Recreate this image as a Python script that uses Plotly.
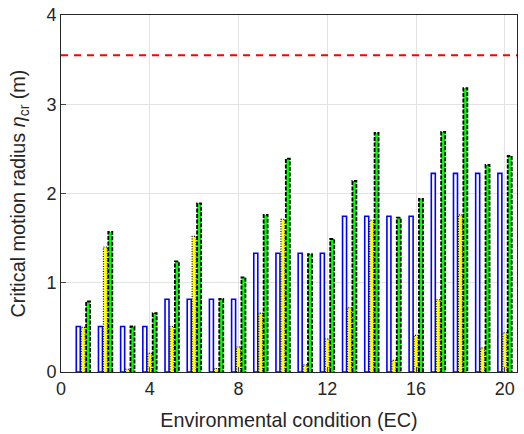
import numpy as np
import plotly.graph_objects as go

ec = list(range(1, 21))
blue_vals = [0.51, 0.51, 0.51, 0.51, 0.815, 0.815, 0.815, 0.815,
             1.33, 1.33, 1.33, 1.33, 1.745, 1.745, 1.745, 1.745,
             2.225, 2.225, 2.225, 2.225]
yellow_vals = [0.50, 1.40, 0.03, 0.21, 0.51, 1.52, 0.04, 0.28,
               0.66, 1.71, 0.08, 0.37, 0.72, 1.70, 0.13, 0.41,
               0.81, 1.76, 0.27, 0.44]
green_vals = [0.79, 1.57, 0.51, 0.66, 1.24, 1.89, 0.82, 1.06,
              1.76, 2.39, 1.32, 1.49, 2.14, 2.68, 1.73, 1.94,
              2.69, 3.18, 2.32, 2.42]
threshold = 3.55

x_ticks = [0, 4, 8, 12, 16, 20]
y_ticks = [0, 1, 2, 3, 4]

W = 0.18
OFF = [-0.222, 0.0, 0.222]
x = np.array(ec, dtype=float)


def outline(vals, off):
    xs, ys = [], []
    for xi, v in zip(x, vals):
        x0 = xi + off - W / 2
        x1 = xi + off + W / 2
        xs += [x0, x0, x1, x1, None]
        ys += [0, v, v, 0, None]
    return xs, ys


fig = go.Figure()
fig.add_trace(go.Bar(x=x, y=blue_vals, width=W, offset=OFF[0] - W / 2,
                     marker=dict(color="white", line=dict(color="#0000ff", width=1.6)),
                     showlegend=False))
fig.add_trace(go.Bar(x=x, y=yellow_vals, width=W, offset=OFF[1] - W / 2,
                     marker=dict(color="#ffff00", line=dict(width=0)),
                     showlegend=False))
fig.add_trace(go.Bar(x=x, y=green_vals, width=W, offset=OFF[2] - W / 2,
                     marker=dict(color="#00ff00", line=dict(width=0)),
                     showlegend=False))

xs, ys = outline(yellow_vals, OFF[1])
fig.add_trace(go.Scatter(x=xs, y=ys, mode="lines",
                         line=dict(color="black", width=1.1, dash="1px,1.5px"),
                         showlegend=False, hoverinfo="skip"))
xs, ys = outline(green_vals, OFF[2])
fig.add_trace(go.Scatter(x=xs, y=ys, mode="lines",
                         line=dict(color="black", width=1.8, dash="4px,1.5px"),
                         showlegend=False, hoverinfo="skip"))

fig.add_shape(type="line", xref="paper", yref="y", x0=0, x1=1,
              y0=threshold, y1=threshold,
              line=dict(color="#ff0000", width=2, dash="7px,6px"))

font_family = "Liberation Sans, Arial, sans-serif"
fig.update_layout(
    width=524, height=434,
    margin=dict(l=61, r=7, t=15, b=62, autoexpand=False),
    paper_bgcolor="white", plot_bgcolor="white",
    barmode="overlay",
    font=dict(family=font_family, size=18, color="#262626"),
    xaxis=dict(range=[0, 20.55], tickvals=x_ticks, ticks="inside", ticklen=5,
               showline=True, linecolor="#262626", linewidth=1, mirror=True,
               showgrid=True, gridcolor="#e3e3e3", zeroline=False, automargin=False,
               ticklabeloverflow="allow",
               title=dict(text="Environmental condition (EC)", font=dict(size=19.8)),
               tickfont=dict(size=18)),
    yaxis=dict(range=[0, 4], tickvals=y_ticks, ticks="inside", ticklen=5,
               showline=True, linecolor="#262626", linewidth=1, mirror=True,
               showgrid=True, gridcolor="#e3e3e3", zeroline=False, automargin=False,
               ticklabeloverflow="allow",
               title=dict(text="Critical motion radius <i>η</i><sub>cr</sub> (m)",
                          font=dict(size=19.8)),
               tickfont=dict(size=18)),
)

fig.write_html("out.html",
               config={"displayModeBar": False},
               post_script="document.body.style.margin='0';document.body.style.overflow='hidden';")
